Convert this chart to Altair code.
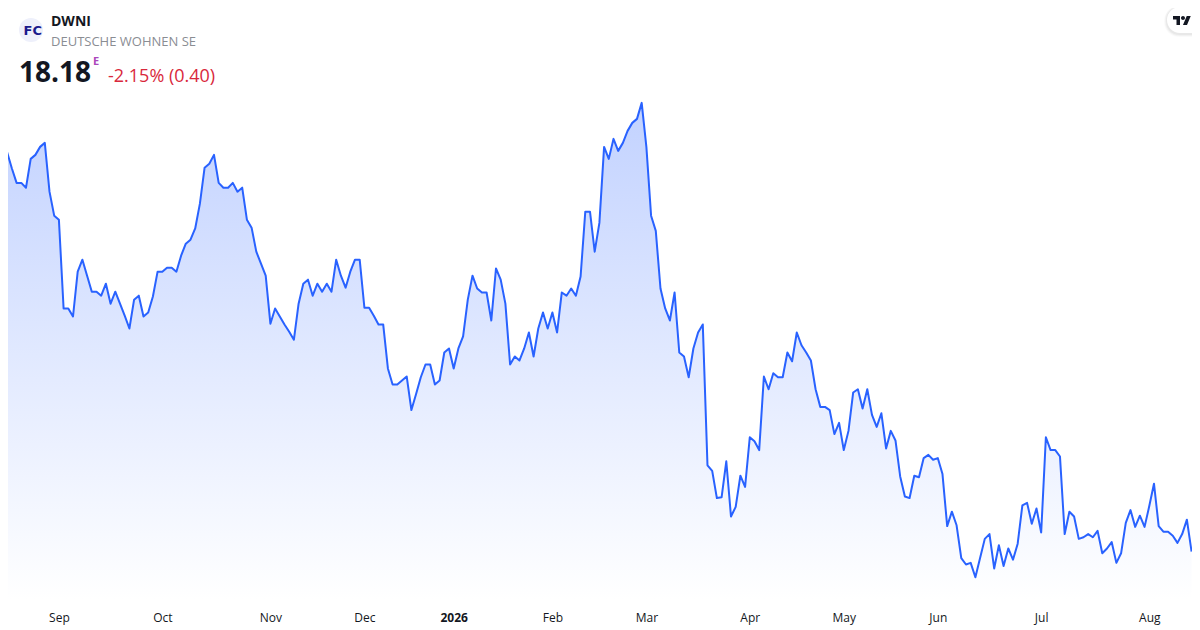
import altair as alt
import pandas as pd

symbol = ["DWNI"]
company = ["DEUTSCHE WOHNEN SE"]
last_price = ["18.18"]
change_text = ["-2.15% (0.40)"]

prices = [
    23.43, 23.17, 22.97, 22.79, 22.79, 22.73, 23.09, 23.14, 23.24, 23.29, 22.68, 22.38, 22.33, 21.22, 21.22, 21.12,
    21.68, 21.83, 21.63, 21.43, 21.43, 21.38, 21.53, 21.28, 21.43, 21.28, 21.13, 20.97, 21.33, 21.38, 21.12, 21.17,
    21.37, 21.68, 21.68, 21.73, 21.73, 21.68, 21.88, 22.03, 22.08, 22.22, 22.53, 22.98, 23.03, 23.14, 22.79, 22.73,
    22.73, 22.79, 22.68, 22.73, 22.33, 22.23, 21.93, 21.78, 21.63, 21.03, 21.22, 21.12, 21.02, 20.93, 20.83, 21.28,
    21.53, 21.58, 21.38, 21.53, 21.43, 21.53, 21.43, 21.83, 21.63, 21.48, 21.68, 21.83, 21.83, 21.23, 21.23, 21.13,
    21.02, 21.02, 20.47, 20.27, 20.27, 20.32, 20.37, 19.95, 20.15, 20.36, 20.52, 20.52, 20.27, 20.32, 20.67, 20.72,
    20.47, 20.72, 20.87, 21.33, 21.63, 21.47, 21.42, 21.42, 21.07, 21.72, 21.58, 21.28, 20.52, 20.62, 20.57, 20.72,
    20.92, 20.62, 20.97, 21.17, 20.97, 21.17, 20.92, 21.42, 21.38, 21.47, 21.38, 21.62, 22.43, 22.43, 21.93, 22.29,
    23.24, 23.09, 23.34, 23.19, 23.29, 23.44, 23.54, 23.59, 23.79, 23.24, 22.38, 22.19, 21.47, 21.22, 21.07, 21.42,
    20.67, 20.62, 20.36, 20.72, 20.92, 21.02, 19.26, 19.19, 18.85, 18.86, 19.31, 18.62, 18.74, 19.13, 18.99, 19.61,
    19.56, 19.45, 20.37, 20.21, 20.41, 20.36, 20.36, 20.67, 20.56, 20.92, 20.76, 20.67, 20.57, 20.21, 19.99, 19.99,
    19.95, 19.65, 19.79, 19.45, 19.69, 20.17, 20.21, 19.97, 20.21, 19.89, 19.74, 19.91, 19.47, 19.69, 19.57, 19.12,
    18.87, 18.85, 19.13, 19.11, 19.35, 19.39, 19.33, 19.35, 19.15, 18.50, 18.68, 18.51, 18.10, 18.02, 18.04, 17.86,
    18.10, 18.34, 18.40, 17.97, 18.26, 18.00, 18.22, 18.08, 18.28, 18.76, 18.79, 18.53, 18.72, 18.42, 19.61, 19.45,
    19.45, 19.37, 18.40, 18.68, 18.62, 18.34, 18.36, 18.40, 18.36, 18.44, 18.16, 18.22, 18.30, 18.04, 18.16, 18.54,
    18.70, 18.49, 18.63, 18.49, 18.75, 19.03, 18.50, 18.43, 18.43, 18.38, 18.29, 18.40, 18.58, 18.18,
]
tick_sessions = [12, 34, 57, 77, 96, 117, 137, 159, 179, 199, 221, 244]
tick_labels = ["Sep", "Oct", "Nov", "Dec", "2026", "Feb", "Mar", "Apr", "May", "Jun", "Jul", "Aug"]
area_base_price = 17.58

W, H = 1184, 622
df = pd.DataFrame({"session": range(len(prices)), "price": prices, "base": area_base_price})

x_scale = alt.Scale(domain=[1.17, 253.09], nice=False, zero=False)
y_scale = alt.Scale(domain=[17.201, 24.976], nice=False, zero=False)

label_expr = "[{}][indexof([{}], datum.value)]".format(
    ",".join(f"'{t}'" for t in tick_labels), ",".join(str(v) for v in tick_sessions)
)
x_axis = alt.Axis(
    values=tick_sessions, labelExpr=label_expr, title=None, grid=False, domain=False, ticks=False,
    offset=-22, labelPadding=4, labelFont="Open Sans", labelFontSize=12, labelColor="#131722",
    labelOverlap=False, labelFlush=False, labelAngle=0,
    labelFontWeight=alt.condition("datum.value == 96", alt.value("bold"), alt.value("normal")),
)

area = alt.Chart(df).mark_area(
    color=alt.Gradient(
        gradient="linear", x1=0, x2=0, y1=0, y2=1,
        stops=[alt.GradientStop(color="#c2d2ff", offset=0), alt.GradientStop(color="#ffffff", offset=1)],
    )
).encode(
    x=alt.X("session:Q", scale=x_scale, axis=x_axis),
    y=alt.Y("price:Q", scale=y_scale, axis=None),
    y2="base:Q",
)
line = alt.Chart(df).mark_line(color="#2962ff", strokeWidth=2, strokeJoin="round").encode(
    x=alt.X("session:Q", scale=x_scale, axis=x_axis),
    y=alt.Y("price:Q", scale=y_scale, axis=None),
)

one = alt.Data(values=[{}])


def box(x0, y0, x1, y1, fill, radius=0, opacity=1.0):
    return alt.Chart(one).mark_rect(fill=fill, cornerRadius=radius, opacity=opacity).encode(
        x=alt.value(x0 - 8), x2=alt.value(x1 - 8), y=alt.value(y0 - 8), y2=alt.value(y1 - 8)
    )


def label(text, x, y, size, color, weight=400, font="Open Sans"):
    return alt.Chart(one).mark_text(
        text=text, align="left", baseline="middle", fontSize=size, color=color, fontWeight=weight, font=font
    ).encode(x=alt.value(x - 8), y=alt.value(y - 8))


def glyph(path, x, y, size, color):
    return alt.Chart(one).mark_point(
        shape=path, filled=True, fill=color, size=size, opacity=1
    ).encode(x=alt.value(x - 8), y=alt.value(y - 8))


tv_path = (
    "M-0.222 0.5H-0.611V-0.111H-1V-0.5H-0.222Z"
    "M0.556 0.5H0.111L0.528 -0.5H0.972Z"
    "M-0.111 -0.278a0.222 0.222 0 1 0 0.444 0a0.222 0.222 0 1 0 -0.444 0Z"
)

layers = [
    area,
    line,
    box(1164, 6, 1220, 37, "#000000", 15, 0.02),
    box(1165, 6, 1220, 36, "#000000", 14, 0.03),
    box(1166, 7, 1220, 35, "#000000", 13, 0.04),
    box(1167, 7, 1220, 33, "#ffffff", 13),
    glyph(tv_path, 1182, 20.5, 324, "#131722"),
    glyph("circle", 31, 30, 576, "#eef0fb"),
    label("FC", 23.5, 30.5, 13, "#1a1a8c", 700, "DejaVu Sans"),
    label(symbol[0], 51, 22, 14, "#131722", 700),
    label(company[0], 51, 42, 13, "#8a8d93"),
    label(last_price[0], 19, 74, 28, "#131722", 700),
    label("E", 93, 62, 11, "#ab47bc", 700),
    label(change_text[0], 108, 77, 18, "#d9283c"),
]

chart = alt.layer(*layers).properties(
    width=W, height=H, background="#ffffff", padding=0, autosize="none"
).configure_view(stroke=None)

chart.save("out.html", embed_options={"renderer": "svg", "actions": False})
